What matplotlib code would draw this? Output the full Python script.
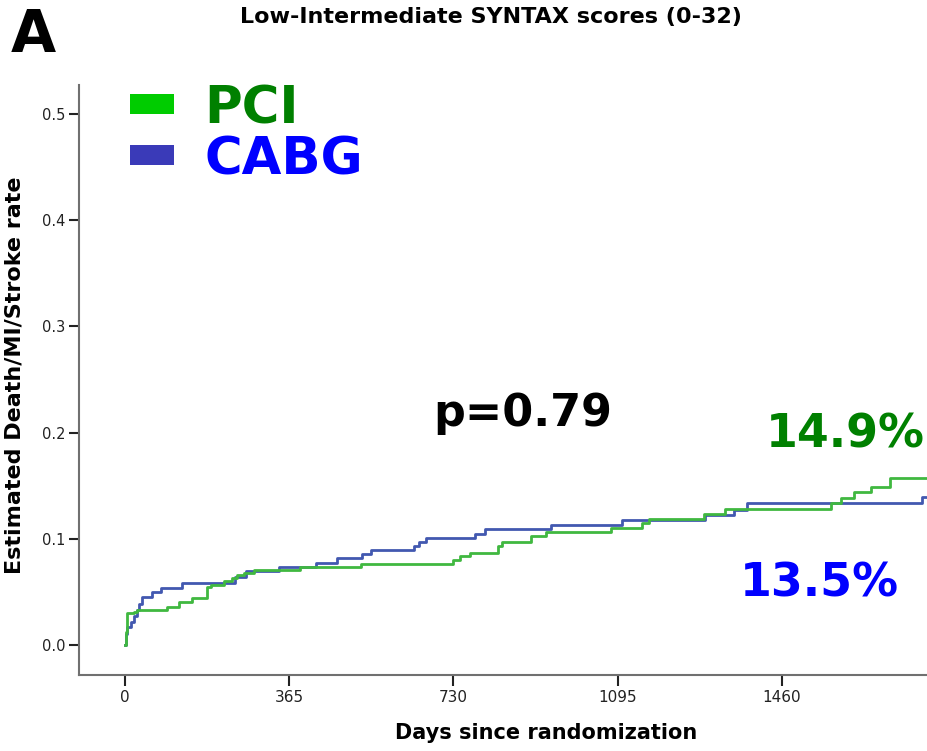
import matplotlib
matplotlib.use("Agg")
import matplotlib.pyplot as plt
from matplotlib.patches import Patch

# Kaplan-Meier style step data (days, cumulative event rate)
pci_days = [0, 2, 5, 21, 28, 95, 121, 150, 183, 191, 220, 239, 250, 265, 287, 390, 524,
            729, 744, 767, 830, 838, 902, 936, 1079, 1150, 1165, 1286, 1334, 1568, 1590,
            1620, 1658, 1699, 1800]
pci_rate = [0.0, 0.012, 0.030, 0.031, 0.033, 0.036, 0.040, 0.044, 0.055, 0.056, 0.060,
            0.063, 0.066, 0.068, 0.0705, 0.073, 0.0765, 0.080, 0.0835, 0.0867, 0.093,
            0.097, 0.1027, 0.1065, 0.1106, 0.115, 0.119, 0.1234, 0.128, 0.134, 0.138,
            0.144, 0.149, 0.157, 0.157]

cabg_days = [0, 3, 6, 13, 21, 28, 32, 39, 61, 80, 128, 246, 269, 342, 424, 472, 527, 546,
             642, 654, 670, 777, 800, 947, 1105, 1289, 1353, 1383, 1771, 1800]
cabg_rate = [0.0, 0.010, 0.017, 0.022, 0.027, 0.033, 0.039, 0.045, 0.050, 0.054, 0.058,
             0.064, 0.070, 0.073, 0.0775, 0.0815, 0.086, 0.089, 0.093, 0.097, 0.101,
             0.1045, 0.109, 0.113, 0.118, 0.122, 0.127, 0.134, 0.139, 0.139]

x_ticks = [0, 365, 730, 1095, 1460, 1825]
y_ticks = [0.0, 0.1, 0.2, 0.3, 0.4, 0.5]

fig = plt.figure(figsize=(9.27, 7.51), dpi=100)
ax = fig.add_axes([79 / 927, 76 / 751, 921 / 927, 590 / 751])

ax.step(cabg_days, cabg_rate, where='post', color='#4258b0', lw=2.0)
ax.step(pci_days, pci_rate, where='post', color='#40b840', lw=2.0)

ax.set_xlim(-101.5, 1944)
ax.set_ylim(-0.0283, 0.5273)
ax.set_xticks(x_ticks)
ax.set_yticks(y_ticks)
ax.set_yticklabels([f"{v:.1f}" for v in y_ticks])

for s in ['top', 'right']:
    ax.spines[s].set_visible(False)
for s in ['left', 'bottom']:
    ax.spines[s].set_color('#707070')
    ax.spines[s].set_linewidth(1.5)

ax.tick_params(axis='x', length=8, width=1.5, color='#222222', pad=3, labelsize=11,
               labelcolor='#222222')
ax.tick_params(axis='y', length=7.5, width=1.5, color='#222222', pad=2.5, labelsize=10.5,
               labelcolor='#222222')

ax.set_xlabel('Days since randomization', fontsize=15, fontweight='bold')
ax.xaxis.set_label_coords(0.507, -0.098)
ax.xaxis.label.set_va('center')
ax.set_ylabel('Estimated Death/MI/Stroke rate', fontsize=16, fontweight='bold')
ax.yaxis.set_label_coords(-0.0695, 0.508)
ax.yaxis.label.set_va('center')

# annotations
ax.text(686, 0.206, 'p=0.79', fontsize=32, fontweight='bold', color='black',
        ha='left', va='baseline')
ax.text(1424, 0.1855, '14.9%', fontsize=33, fontweight='bold', color='#008000',
        ha='left', va='baseline')
ax.text(1367, 0.0455, '13.5%', fontsize=33, fontweight='bold', color='#0000ff',
        ha='left', va='baseline')

handles = [Patch(facecolor='#00cc00', edgecolor='none', label='PCI'),
           Patch(facecolor='#3a3ab8', edgecolor='none', label='CABG')]
leg = ax.legend(handles=handles, loc='upper left', bbox_to_anchor=(130 / 927, 1 - 84 / 751),
                bbox_transform=fig.transFigure, frameon=False,
                prop={'size': 37, 'weight': 'bold'}, handlelength=0.85, handleheight=0.22,
                handletextpad=0.6, labelspacing=0.02, borderaxespad=0, borderpad=0)
for t, c in zip(leg.get_texts(), ['#008000', '#0000ff']):
    t.set_color(c)

fig.text(491 / 927, 1 - 17 / 751, 'Low-Intermediate SYNTAX scores (0-32)', fontsize=16,
         fontweight='bold', ha='center', va='center')
fig.text(11 / 927, 1 - 36 / 751, 'A', fontsize=42, fontweight='bold',
         ha='left', va='center')

fig.savefig('out.png', dpi=100)
